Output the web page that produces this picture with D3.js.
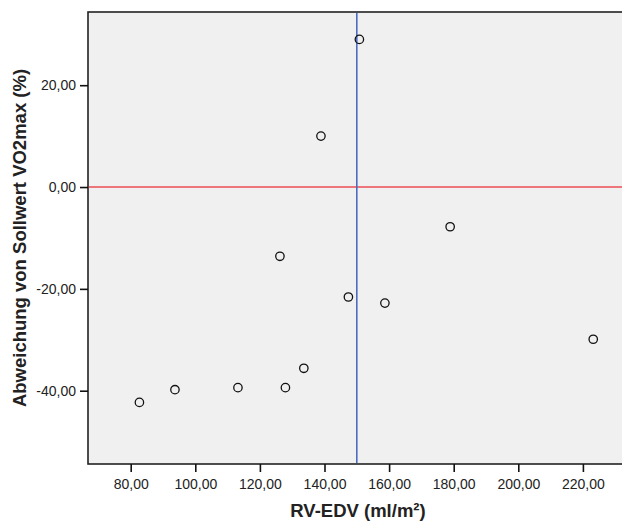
<!DOCTYPE html>
<html>
<head>
<meta charset="utf-8">
<script src="https://cdn.jsdelivr.net/npm/d3@7"></script>
<style>
  html, body { margin: 0; padding: 0; background: #fff; }
  svg { display: block; }
  text { font-family: Arial, "Liberation Sans", sans-serif; }
</style>
</head>
<body>
<div id="chart"></div>
<script>
// RV-EDV (ml/m²) against deviation from target VO2max (%)
const rvEdv = [82.7, 93.7, 113.2, 127.9, 133.6, 126.2, 138.9, 150.8, 147.4, 158.7, 178.9, 223.2];
const deviation = [-42.3, -39.8, -39.4, -39.4, -35.6, -13.6, 10.0, 29.0, -21.6, -22.8, -7.8, -29.9];
const xTicks = [80, 100, 120, 140, 160, 180, 200, 220];
const yTicks = [-40, -20, 0, 20];
const xReference = 150;
const yReference = 0;

const width = 622, height = 524;
const frame = { left: 88, right: 629, top: 12, bottom: 464 };

const svg = d3.select("#chart").append("svg")
  .attr("width", width).attr("height", height);

const x = d3.scaleLinear().domain([80, 220]).range([130.7, 582.9]);
const y = d3.scaleLinear().domain([-40, 20]).range([390.7, 85.2]);

// plot background and frame
svg.append("rect")
  .attr("x", frame.left).attr("y", frame.top)
  .attr("width", frame.right - frame.left).attr("height", frame.bottom - frame.top)
  .attr("fill", "#f0f0f0").attr("stroke", "#222").attr("stroke-width", 1.6);

const fmt = d => d3.format(".2f")(d).replace(".", ",").replace("−", "-");

// x axis
const xAxis = svg.append("g")
  .attr("transform", `translate(0,${frame.bottom})`)
  .call(d3.axisBottom(x).tickValues(xTicks).tickFormat(fmt).tickSize(8).tickPadding(7));
xAxis.select(".domain").remove();
xAxis.selectAll(".tick line").attr("stroke", "#111").attr("stroke-width", 1.6);
xAxis.selectAll(".tick text").attr("font-size", 14).attr("fill", "#222")
  .attr("font-family", "Arial, 'Liberation Sans', sans-serif");

// y axis
const yAxis = svg.append("g")
  .attr("transform", `translate(${frame.left},0)`)
  .call(d3.axisLeft(y).tickValues(yTicks).tickFormat(fmt).tickSize(8).tickPadding(4));
yAxis.select(".domain").remove();
yAxis.selectAll(".tick line").attr("stroke", "#111").attr("stroke-width", 1.6);
yAxis.selectAll(".tick text").attr("font-size", 14).attr("fill", "#222")
  .attr("font-family", "Arial, 'Liberation Sans', sans-serif");

// reference lines
svg.append("line")
  .attr("x1", frame.left + 1).attr("x2", frame.right)
  .attr("y1", y(yReference)).attr("y2", y(yReference))
  .attr("stroke", "#ee4c53").attr("stroke-width", 1.6);
svg.append("line")
  .attr("x1", x(xReference)).attr("x2", x(xReference))
  .attr("y1", frame.top + 1).attr("y2", frame.bottom - 1)
  .attr("stroke", "#4c6cc4").attr("stroke-width", 1.6);

// data points
svg.append("g").selectAll("circle")
  .data(rvEdv.map((v, i) => [v, deviation[i]]))
  .join("circle")
  .attr("cx", d => x(d[0])).attr("cy", d => y(d[1]))
  .attr("r", 4.2)
  .attr("fill", "none").attr("stroke", "#111").attr("stroke-width", 1.3);

// axis titles
svg.append("text")
  .attr("x", 358).attr("y", 517)
  .attr("text-anchor", "middle")
  .attr("font-size", 18.5).attr("font-weight", "bold").attr("fill", "#222")
  .text("RV-EDV (ml/m²)");

svg.append("text")
  .attr("transform", `translate(26,238) rotate(-90)`)
  .attr("text-anchor", "middle")
  .attr("font-size", 18.5).attr("font-weight", "bold").attr("fill", "#222")
  .text("Abweichung von Sollwert VO2max (%)");
</script>
</body>
</html>
